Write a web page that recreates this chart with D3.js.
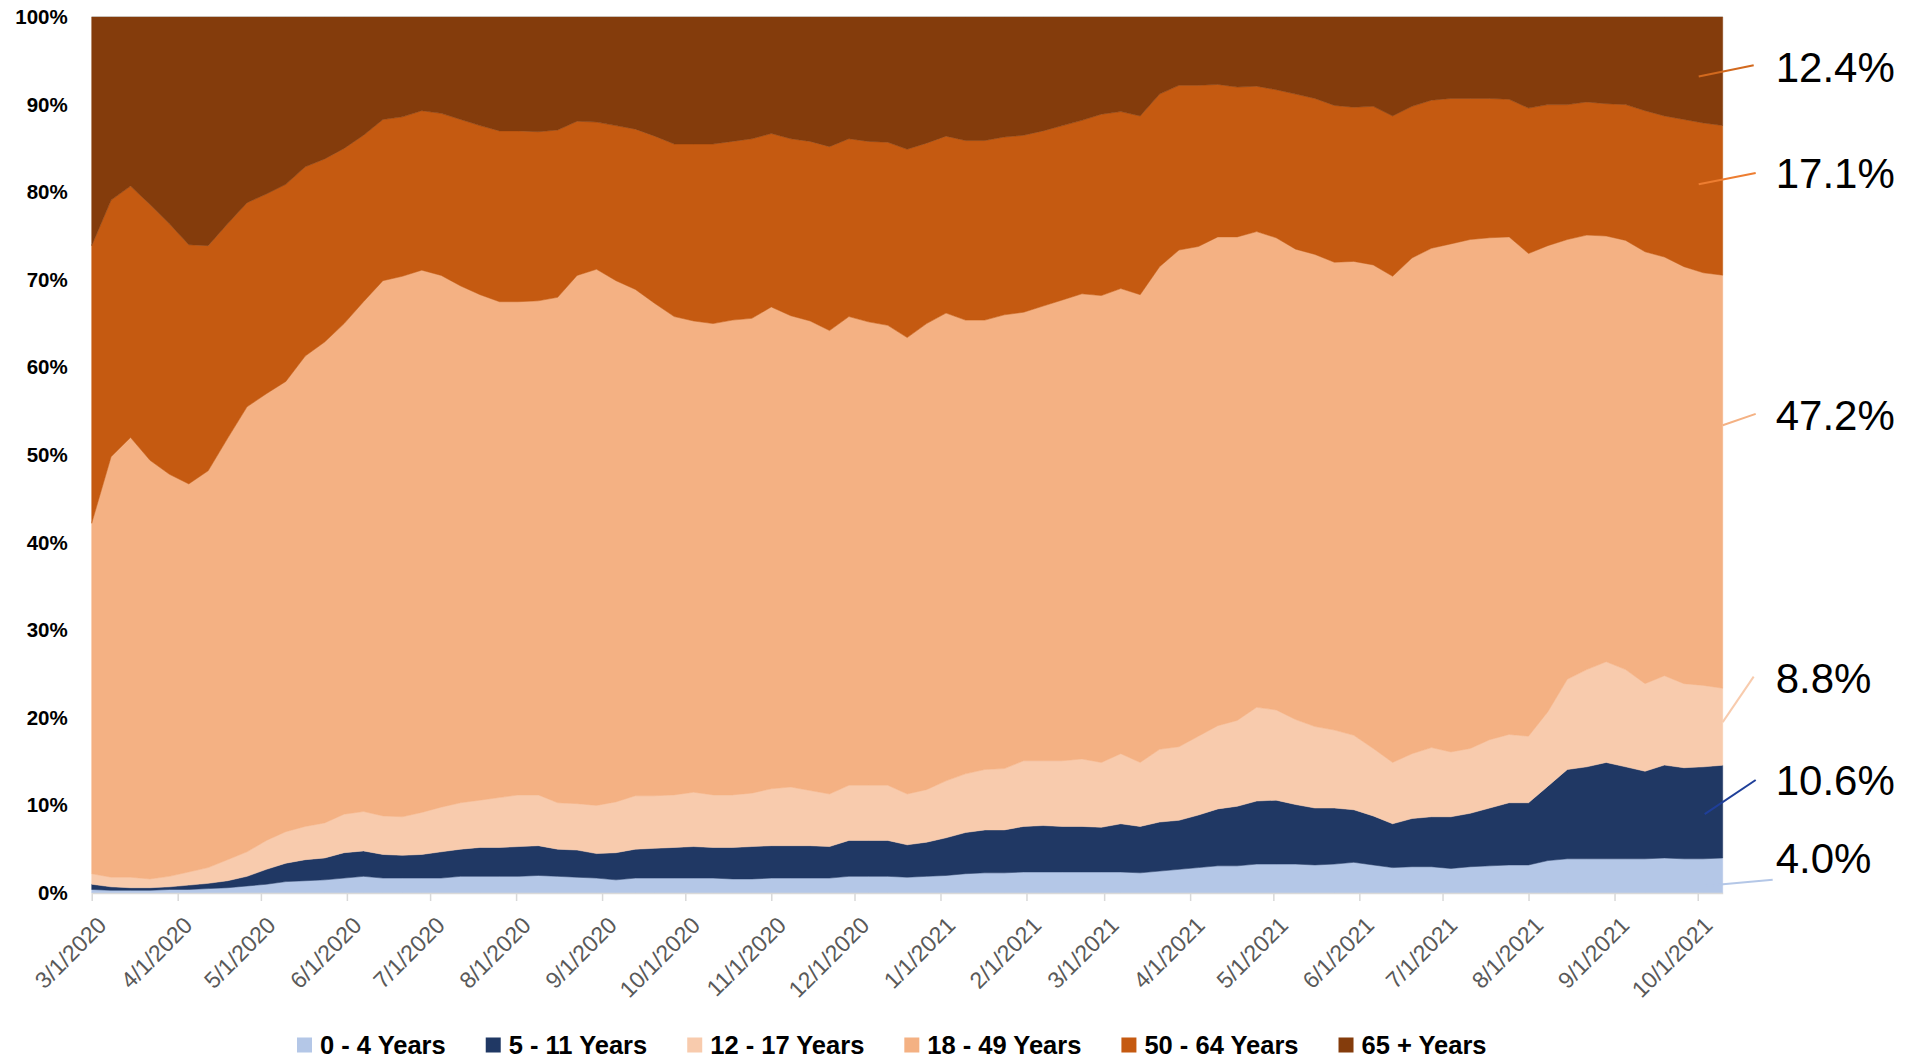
<!DOCTYPE html>
<html>
<head>
<meta charset="utf-8">
<script src="https://cdn.jsdelivr.net/npm/d3@7"></script>
<style>
  html, body { margin: 0; padding: 0; background: #ffffff; }
  svg { display: block; }
</style>
</head>
<body>
<svg id="chart" width="1906" height="1060"></svg>
<script>
// ---------------- DATA ----------------
const dates = [
  "2020-03-01","2020-03-08","2020-03-15","2020-03-22","2020-03-29",
  "2020-04-05","2020-04-12","2020-04-19","2020-04-26",
  "2020-05-03","2020-05-10","2020-05-17","2020-05-24","2020-05-31",
  "2020-06-07","2020-06-14","2020-06-21","2020-06-28",
  "2020-07-05","2020-07-12","2020-07-19","2020-07-26",
  "2020-08-02","2020-08-09","2020-08-16","2020-08-23","2020-08-30",
  "2020-09-06","2020-09-13","2020-09-20","2020-09-27",
  "2020-10-04","2020-10-11","2020-10-18","2020-10-25",
  "2020-11-01","2020-11-08","2020-11-15","2020-11-22","2020-11-29",
  "2020-12-06","2020-12-13","2020-12-20","2020-12-27",
  "2021-01-03","2021-01-10","2021-01-17","2021-01-24","2021-01-31",
  "2021-02-07","2021-02-14","2021-02-21","2021-02-28",
  "2021-03-07","2021-03-14","2021-03-21","2021-03-28",
  "2021-04-04","2021-04-11","2021-04-18","2021-04-25",
  "2021-05-02","2021-05-09","2021-05-16","2021-05-23","2021-05-30",
  "2021-06-06","2021-06-13","2021-06-20","2021-06-27",
  "2021-07-04","2021-07-11","2021-07-18","2021-07-25",
  "2021-08-01","2021-08-08","2021-08-15","2021-08-22","2021-08-29",
  "2021-09-05","2021-09-12","2021-09-19","2021-09-26",
  "2021-10-03","2021-10-10"
];

const seriesNames = ["0 - 4 Years","5 - 11 Years","12 - 17 Years","18 - 49 Years","50 - 64 Years","65 + Years"];

const age0_4 = [
  0.4,0.3,0.3,0.3,0.4,0.4,0.5,0.6,0.8,1.0,
  1.3,1.4,1.5,1.7,1.9,1.7,1.7,1.7,1.7,1.9,
  1.9,1.9,1.9,2.0,1.9,1.8,1.7,1.5,1.7,1.7,
  1.7,1.7,1.7,1.6,1.6,1.7,1.7,1.7,1.7,1.9,
  1.9,1.9,1.8,1.9,2.0,2.2,2.3,2.3,2.4,2.4,
  2.4,2.4,2.4,2.4,2.3,2.5,2.7,2.9,3.1,3.1,
  3.3,3.3,3.3,3.2,3.3,3.5,3.2,2.9,3.0,3.0,
  2.8,3.0,3.1,3.2,3.2,3.7,3.9,3.9,3.9,3.9,
  3.9,4.0,3.9,3.9,4.0
];
const age5_11 = [
  0.6,0.4,0.3,0.3,0.3,0.5,0.6,0.8,1.1,1.7,
  2.1,2.4,2.5,2.9,2.9,2.7,2.6,2.7,3.0,3.1,
  3.3,3.3,3.4,3.4,3.1,3.1,2.8,3.1,3.3,3.4,
  3.5,3.6,3.5,3.6,3.7,3.7,3.7,3.7,3.6,4.1,
  4.1,4.1,3.7,3.9,4.3,4.7,4.9,4.9,5.2,5.3,
  5.2,5.2,5.1,5.5,5.3,5.6,5.6,6.0,6.5,6.8,
  7.2,7.3,6.8,6.5,6.4,6.0,5.6,5.0,5.5,5.7,
  5.9,6.1,6.6,7.1,7.1,8.5,10.2,10.5,11.0,10.5,
  10.0,10.6,10.4,10.5,10.6
];
const age12_17 = [
  1.2,1.1,1.2,1.0,1.2,1.5,1.8,2.4,2.8,3.3,
  3.6,3.8,4.0,4.4,4.5,4.4,4.4,4.8,5.1,5.3,
  5.4,5.7,5.9,5.8,5.3,5.3,5.5,5.8,6.1,6.0,
  6.0,6.2,6.0,6.0,6.1,6.5,6.7,6.3,6.0,6.3,
  6.3,6.3,5.8,6.0,6.5,6.7,6.9,7.0,7.5,7.4,
  7.5,7.7,7.4,8.0,7.3,8.3,8.4,9.0,9.5,9.8,
  10.7,10.3,9.7,9.3,8.9,8.5,7.7,7.0,7.4,7.9,
  7.4,7.4,7.8,7.8,7.6,8.5,10.3,11.1,11.5,11.1,
  10.0,10.2,9.6,9.3,8.8
];
const age18_49 = [
  40.0,48.0,50.2,47.8,45.9,44.3,45.3,48.1,50.8,51.0,
  51.4,53.7,54.9,56.0,58.2,61.1,61.7,61.9,60.7,59.0,
  57.7,56.6,56.3,56.4,57.7,60.3,61.2,59.5,57.8,56.2,
  54.6,53.8,53.8,54.2,54.2,55.0,53.8,53.6,52.9,53.5,
  52.9,52.5,52.1,53.2,53.4,51.8,51.3,51.8,51.2,51.9,
  52.6,53.1,53.3,53.1,53.4,55.1,56.7,55.9,55.8,55.2,
  54.3,53.9,53.7,53.9,53.4,54.1,55.2,55.5,56.6,57.0,
  58.0,58.1,57.3,56.8,55.1,53.2,50.2,49.6,48.6,49.0,
  49.3,47.8,47.6,47.1,47.2
];
const age50_64 = [
  31.7,29.3,28.7,29.2,28.6,27.3,25.7,24.5,23.3,22.8,
  22.5,21.6,20.9,20.0,19.0,18.4,18.2,18.2,18.5,19.0,
  19.3,19.5,19.5,19.3,19.1,17.6,16.8,17.7,18.3,19.1,
  19.7,20.2,20.5,20.4,20.5,19.8,20.2,20.5,21.0,20.3,
  20.6,20.9,21.5,20.6,20.2,20.5,20.5,20.3,20.2,20.0,
  19.9,19.8,20.7,20.2,20.4,19.7,18.8,18.4,17.4,17.1,
  16.6,16.9,17.7,17.8,17.9,17.6,18.1,18.3,17.3,16.9,
  16.6,16.1,15.9,15.7,16.6,16.1,15.4,15.2,15.1,15.5,
  16.1,16.1,16.8,17.1,17.1
];
const age65plus = [
  26.1,20.9,19.3,21.4,23.6,26.0,26.1,23.6,21.2,20.2,
  19.1,17.1,16.2,15.0,13.5,11.7,11.4,10.7,11.0,11.7,
  12.4,13.0,13.0,13.1,12.9,11.9,12.0,12.4,12.8,13.6,
  14.5,14.5,14.5,14.2,13.9,13.3,13.9,14.2,14.8,13.9,
  14.2,14.3,15.1,14.4,13.6,14.1,14.1,13.7,13.5,13.0,
  12.4,11.8,11.1,10.8,11.3,8.8,7.8,7.8,7.7,8.0,
  7.9,8.3,8.8,9.3,10.1,10.3,10.2,11.3,10.2,9.5,
  9.3,9.3,9.3,9.4,10.4,10.0,10.0,9.7,9.9,10.0,
  10.7,11.3,11.7,12.1,12.4
];

const yTickValues = [0, 0.1, 0.2, 0.3, 0.4, 0.5, 0.6, 0.7, 0.8, 0.9, 1.0];
const endLabels = ["4.0%", "10.6%", "8.8%", "47.2%", "17.1%", "12.4%"];

// ---------------- STYLE ----------------
const colors = ["#b4c7e7", "#203864", "#f8cbad", "#f4b183", "#c55a11", "#843c0c"];
const leaderColors = ["#b4c7e7", "#1f3f99", "#f8cbad", "#f4b183", "#ed7d31", "#d2691e"];
// label baseline (as share), leader inner point (share, px offset from right edge), outer point
const labelBase = [0.023, 0.112, 0.228, 0.529, 0.805, 0.926];
const leaderInner = [[0.008, -19], [0.090, -18], [0.195, 0], [0.534, 0], [0.809, -24], [0.932, -24]];
const leaderOuter = [[0.015, 50], [0.129, 33], [0.247, 31], [0.547, 33], [0.822, 33], [0.945, 31]];

const FONT = "'Liberation Sans', Arial, sans-serif";
const svg = d3.select("#chart");

const parse = d3.utcParse("%Y-%m-%d");
const rows = dates.map((d, i) => ({
  date: parse(d),
  [seriesNames[0]]: age0_4[i],
  [seriesNames[1]]: age5_11[i],
  [seriesNames[2]]: age12_17[i],
  [seriesNames[3]]: age18_49[i],
  [seriesNames[4]]: age50_64[i],
  [seriesNames[5]]: age65plus[i]
}));

const plotL = 91.7, plotR = 1722.7, plotT = 17, plotB = 893;
const x = d3.scaleUtc()
  .domain([rows[0].date, rows[rows.length - 1].date])
  .range([plotL, plotR]);
const y = d3.scaleLinear().domain([0, 1]).range([plotB, plotT]);

const layers = d3.stack().keys(seriesNames).offset(d3.stackOffsetExpand)(rows);
const area = d3.area()
  .x(d => x(d.data.date))
  .y0(d => y(d[0]))
  .y1(d => y(d[1]))
  .curve(d3.curveLinear);

svg.append("g").selectAll("path")
  .data(layers)
  .join("path")
  .attr("fill", (d, i) => colors[i])
  .attr("stroke", (d, i) => colors[i])
  .attr("stroke-width", 0.5)
  .attr("stroke-linejoin", "round")
  .attr("d", area);

// top gridline (100%)
svg.append("line")
  .attr("x1", plotL).attr("x2", plotR)
  .attr("y1", y(1) - 0.5).attr("y2", y(1) - 0.5)
  .attr("stroke", "#c9c0b8").attr("stroke-width", 1);

// Y axis
const yAxis = d3.axisLeft(y)
  .tickValues(yTickValues)
  .tickFormat(d3.format(".0%"))
  .tickSize(0)
  .tickPadding(24);
const gy = svg.append("g").attr("transform", `translate(${plotL},0)`).call(yAxis);
gy.select(".domain").remove();
gy.selectAll("text")
  .attr("font-family", FONT)
  .attr("font-weight", "bold")
  .attr("font-size", 20.5)
  .attr("fill", "#000");

// X axis
const xAxis = d3.axisBottom(x)
  .ticks(d3.utcMonth.every(1))
  .tickFormat(d3.utcFormat("%-m/%-d/%Y"))
  .tickSize(8)
  .tickSizeOuter(0);
const gx = svg.append("g").attr("transform", `translate(0,${plotB})`).call(xAxis);
gx.select(".domain").attr("stroke", "#d9d9d9").attr("stroke-width", 1.5);
gx.selectAll(".tick line").attr("stroke", "#d9d9d9").attr("stroke-width", 1.5);
gx.selectAll(".tick text")
  .attr("x", 0).attr("y", 0).attr("dy", "0.35em")
  .attr("text-anchor", "end")
  .attr("transform", "translate(10,28) rotate(-45)")
  .attr("font-family", FONT)
  .attr("font-size", 23)
  .attr("fill", "#595959");

// End labels with leader lines
const ann = svg.append("g");
endLabels.forEach((t, i) => {
  ann.append("line")
    .attr("x1", plotR + leaderInner[i][1]).attr("y1", y(leaderInner[i][0]))
    .attr("x2", plotR + leaderOuter[i][1]).attr("y2", y(leaderOuter[i][0]))
    .attr("stroke", leaderColors[i]).attr("stroke-width", 2);
  ann.append("text")
    .attr("x", plotR + 53)
    .attr("y", y(labelBase[i]))
    .attr("font-family", FONT)
    .attr("font-size", 42)
    .attr("fill", "#000")
    .text(t);
});

// Legend
const leg = svg.append("g").attr("transform", "translate(297,1045)");
let cx = 0;
seriesNames.forEach((name, i) => {
  leg.append("rect")
    .attr("x", cx).attr("y", -7.5)
    .attr("width", 15).attr("height", 15)
    .attr("fill", colors[i]);
  const tx = leg.append("text")
    .attr("x", cx + 23).attr("y", 0).attr("dy", "0.35em")
    .attr("font-family", FONT)
    .attr("font-weight", "bold")
    .attr("font-size", 25.5)
    .attr("fill", "#000")
    .text(name);
  cx += 23 + tx.node().getComputedTextLength() + 40;
});
</script>
</body>
</html>
